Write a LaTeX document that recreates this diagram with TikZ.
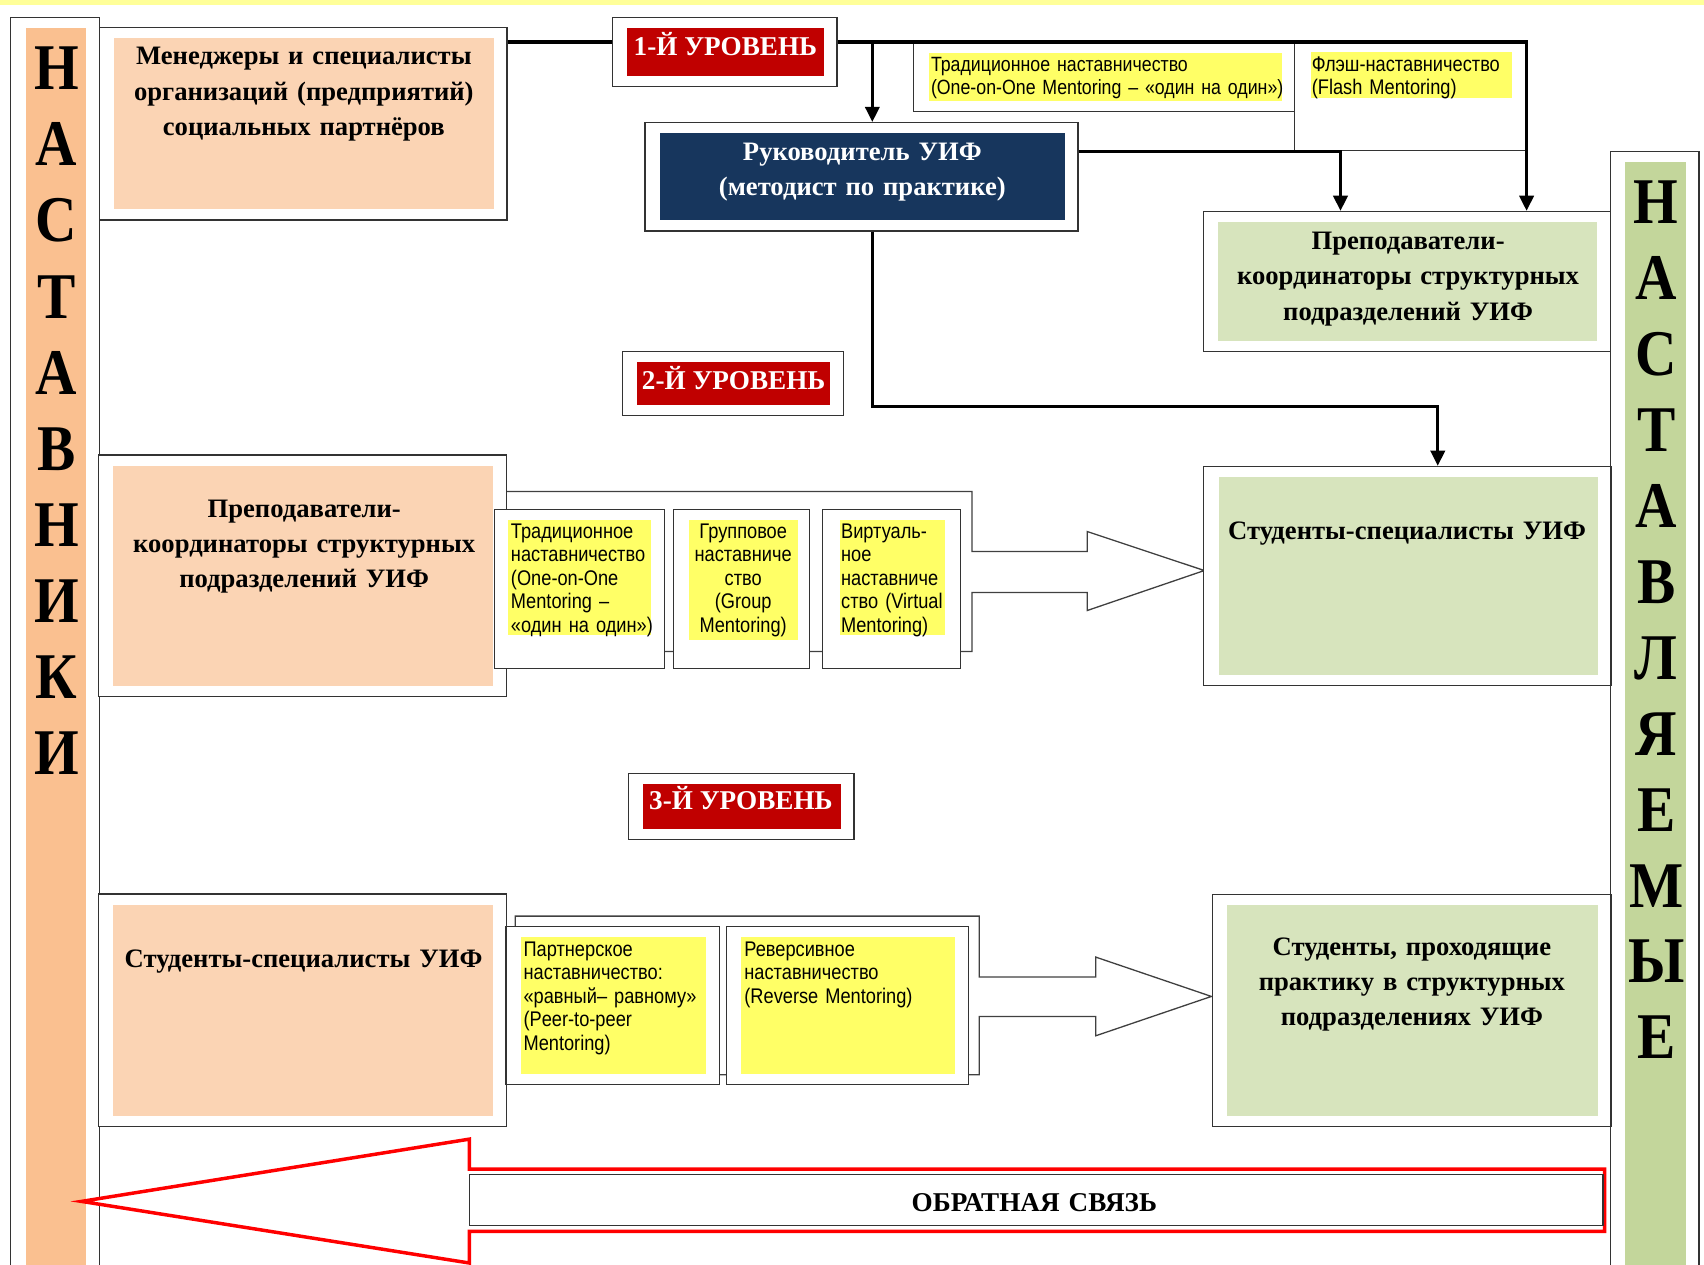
\documentclass[tikz,border=0pt]{standalone}
\usepackage{fontspec}
\setmainfont{Liberation Serif}
\newfontfamily\narrowsans[FakeStretch=0.86]{Liberation Sans}
\newfontfamily\narrowserif[FakeStretch=0.88]{Liberation Serif}
\usetikzlibrary{arrows.meta,fit}
\definecolor{peach}{HTML}{FBD4B4}
\definecolor{peachdark}{HTML}{FAC090}
\definecolor{sage}{HTML}{D7E4BD}
\definecolor{sagedark}{HTML}{C3D69B}
\definecolor{navy}{HTML}{17365D}
\definecolor{levelred}{HTML}{C00000}
\definecolor{hlyellow}{HTML}{FFFF66}
\definecolor{stripyellow}{HTML}{FFFF99}

\begin{document}
\begin{tikzpicture}[x=1pt, y=-1pt,
    panelbox/.style={draw=black!80, line width=1.2pt, fill=white, inner sep=0pt,
      path picture={\fill[#1] ([xshift=13.6pt,yshift=-9.8pt]path picture bounding box.north west)
        rectangle ([xshift=-12.2pt,yshift=9.8pt]path picture bounding box.south east);}},
    plainbox/.style={draw=black!80, line width=1.1pt, fill=white, inner sep=0pt},
    groupline/.style={draw=black!75, line width=1.2pt, fill=white},
    feedbackline/.style={draw=red, line width=3.2pt, fill=white},
    link/.style={line width=3pt},
    arrowend/.style={-{Triangle[length=14pt,width=13pt]}},
    boldtxt/.style={font=\bfseries\fontsize{24.5}{32.3}\selectfont, align=center, text width=380pt, inner sep=0pt, anchor=base},
    leveltxt/.style={font=\bfseries\fontsize{25}{30}\selectfont, text=white, inner sep=0pt, anchor=base},
    smalltxt/.style={font=\narrowsans\fontsize{19.5}{21.6}\selectfont, align=left, text width=200pt, inner sep=0pt, anchor=base west},
    letter/.style={font=\narrowserif\bfseries\fontsize{60}{60}\selectfont, inner sep=0pt, anchor=base}]
\useasboundingbox (0,0) rectangle (1568,1164);
\fill[stripyellow] (0,0) rectangle (1568,5);

% side panels
\node[panelbox=peachdark, fit={(9.9,16) (91.5,1185)}] (mentors) {};
\node[panelbox=sagedark, fit={(1482.1,139.5) (1563.5,1185)}] (mentees) {};
\foreach \ch [count=\i from 0] in {Н,А,С,Т,А,В,Н,И,К,И}
  \node[letter] (ml\i) at (51.9, 82.5+70.05*\i) {\ch};
\foreach \ch [count=\i from 0] in {Н,А,С,Т,А,В,Л,Я,Е,М,Ы,Е}
  \node[letter] (el\i) at (1524, 205.5+69.9*\i) {\ch};

% level 1
\node[panelbox=peach, fit={(91.5,25.1) (466.5,202.4)}] (managers) {};
\node[boldtxt] (managerstxt) at (279.6,59.8) {Менеджеры и специалисты\\организаций (предприятий)\\социальных партнёров};
\node[panelbox=levelred, fit={(563.6,16) (770.3,79.7)}] (level1) {};
\node[leveltxt] (level1txt) at (667.5,50.8) {1-Й УРОВЕНЬ};
\node[panelbox=navy, fit={(593.6,112.9) (992,212.5)}] (head) {};
\node[boldtxt, text=white] (headtxt) at (793.5,148) {Руководитель УИФ\\(методист по практике)};
\node[plainbox, fit={(840.7,39.3) (1191.3,102.7)}] (onebox) {};
\node[plainbox, fit={(1191.3,38.6) (1404.2,138.6)}] (flashbox) {};
\fill[hlyellow] (854.7,49) rectangle (1180,92.6);
\fill[hlyellow] (1206,47.5) rectangle (1391.1,90.5);
\node[smalltxt, text width=420pt, font=\narrowsans\fontsize{19}{20.5}\selectfont] (onetxt) at (856.5,66) {Традиционное наставничество\\(One-on-One Mentoring – «один на один»)};
\node[smalltxt, font=\narrowsans\fontsize{19.5}{20.5}\selectfont] (flashtxt) at (1206.9,66) {Флэш-наставничество\\(Flash Mentoring)};
\node[panelbox=sage, fit={(1107.4,194.7) (1482.1,323.5)}] (coordR) {};
\node[boldtxt] (coordRtxt) at (1295.7,229.9) {Преподаватели-\\координаторы структурных\\подразделений УИФ};

% level 2
\node[panelbox=levelred, fit={(573,323.5) (776.3,382.4)}] (level2) {};
\node[leveltxt] (level2txt) at (675.1,358.5) {2-Й УРОВЕНЬ};
\draw[groupline] (465.5,452.3) -- (894.5,452.3) -- (894.5,507.5) -- (1000.4,507.5) -- (1000.4,489.1) -- (1108.2,525) -- (1000.4,561.8) -- (1000.4,545.2) -- (894.5,545.2) -- (894.5,599.5) -- (465.5,599.5) -- cycle;
\node[panelbox=peach, fit={(90.8,418.6) (465.8,640.9)}] (coordL) {};
\node[boldtxt] (coordLtxt) at (279.9,476.2) {Преподаватели-\\координаторы структурных\\подразделений УИФ};
\node[plainbox, fit={(454.7,468.6) (611.8,614.9)}] (form1) {};
\node[plainbox, fit={(619.6,468.6) (744.6,614.9)}] (form2) {};
\node[plainbox, fit={(757.2,468.6) (883.7,614.9)}] (form3) {};
\fill[hlyellow] (467.4,478.4) rectangle (599.4,584.2);
\fill[hlyellow] (633.7,478.4) rectangle (734,588.8);
\fill[hlyellow] (772.5,478.4) rectangle (869.3,584.2);
\node[smalltxt] (form1txt) at (470,495.3) {Традиционное\\наставничество\\(One-on-One\\Mentoring –\\«один на один»)};
\node[smalltxt, align=center, text width=100pt, anchor=base] (form2txt) at (683.9,495.3) {Групповое\\наставниче\\ство\\(Group\\Mentoring)};
\node[smalltxt] (form3txt) at (773.8,495.3) {Виртуаль-\\ное\\наставниче\\ство (Virtual\\Mentoring)};
\node[panelbox=sage, fit={(1107.7,429.3) (1482.4,631.1)}] (students) {};
\node[boldtxt] (studentstxt) at (1294.8,496.1) {Студенты-специалисты УИФ};

% connectors
\coordinate (rowA) at (0,38.6);
\coordinate (rowB) at (0,139.5);
\coordinate (rowC) at (0,374.1);
\coordinate (colA) at (802.7,0);
\coordinate (colB) at (1233.5,0);
\coordinate (colC) at (1323,0);
\draw[link] (managers.east |- rowA) -- (level1.west |- rowA);
\draw[link, arrowend] (level1.east |- rowA) -| (flashbox.east |- coordR.north);
\draw[link, arrowend] (colA |- rowA) -- (colA |- head.north);
\draw[link, arrowend] (head.east |- rowB) -| (colB |- coordR.north);
\draw[link, arrowend] (colA |- head.south) |- (colC |- rowC) -- (colC |- students.north);

% level 3
\node[panelbox=levelred, fit={(578.2,711.5) (785.8,772.8)}] (level3) {};
\node[leveltxt] (level3txt) at (681.8,745.2) {3-Й УРОВЕНЬ};
\node[panelbox=peach, fit={(90.8,822.5) (465.8,1036.5)}] (studL) {};
\node[boldtxt] (studLtxt) at (279.3,890.2) {Студенты-специалисты УИФ};
\draw[groupline] (474.2,989) -- (474.2,843) -- (901,843) -- (901,899.1) -- (1008.3,899.1) -- (1008.3,880.7) -- (1114.7,916.9) -- (1008.3,953.1) -- (1008.3,935.3) -- (901,935.3) -- (901,989) -- cycle;
\node[panelbox=hlyellow, fit={(465.5,852.5) (662.2,998.2)}] (form4) {};
\node[panelbox=hlyellow, fit={(668.3,852.5) (891,998.2)}] (form5) {};
\node[smalltxt] (form4txt) at (481.6,880.1) {Партнерское\\наставничество:\\«равный– равному»\\(Peer-to-peer\\Mentoring)};
\node[smalltxt] (form5txt) at (684.8,880.1) {Реверсивное\\наставничество\\(Reverse Mentoring)};
\node[panelbox=sage, fit={(1115.4,822.8) (1482.4,1036.5)}] (trainees) {};
\node[boldtxt] (traineestxt) at (1299.2,879.4) {Студенты, проходящие\\практику в структурных\\подразделениях УИФ};

% feedback
\draw[feedbackline] (75,1105.5) -- (431.9,1048.2) -- (431.9,1075.8) -- (1476.6,1075.8) -- (1476.6,1133.1) -- (431.9,1133.1) -- (431.9,1162.2) -- cycle;
\node[plainbox, fit={(431.9,1081) (1475,1127.9)}] (feedback) {};
\node[boldtxt, font=\bfseries\fontsize{25}{28}\selectfont] (feedbacktxt) at (951.8,1114.7) {ОБРАТНАЯ СВЯЗЬ};
\end{tikzpicture}
\end{document}
